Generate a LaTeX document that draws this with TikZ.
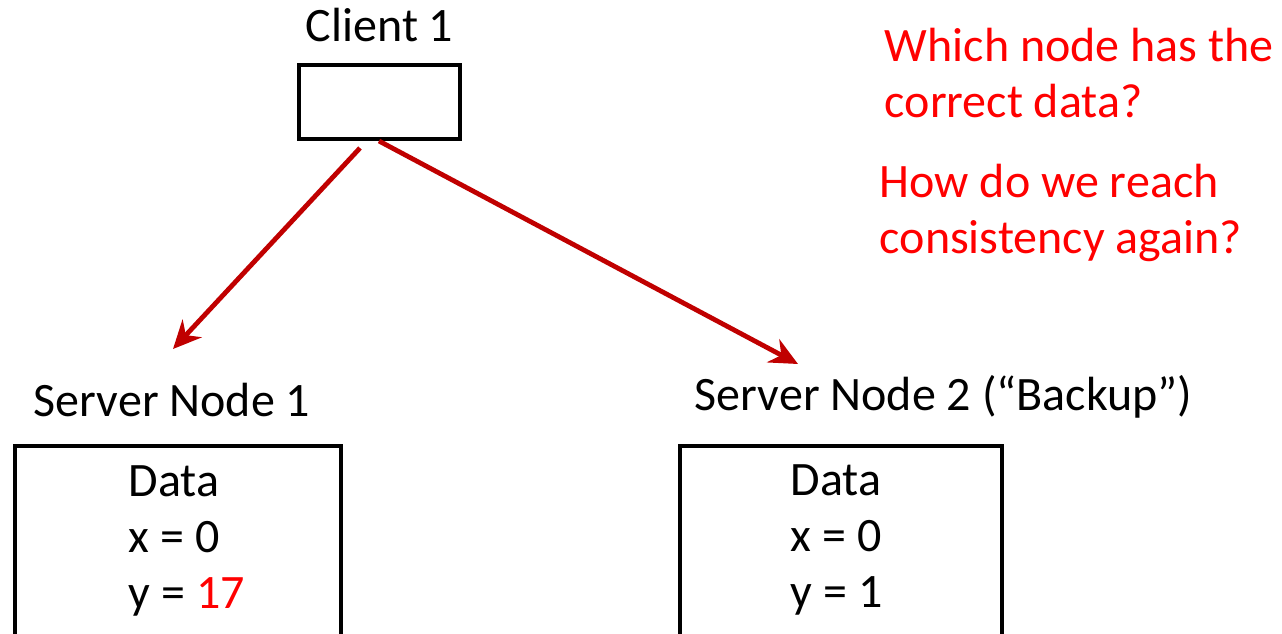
\documentclass[tikz,border=0pt]{standalone}
\usepackage{fontspec}
\setmainfont{Carlito}
\usetikzlibrary{arrows.meta}
\definecolor{linkred}{HTML}{C00000}
\tikzset{>={Stealth[length=14pt,width=13pt]}}

\begin{document}
\begin{tikzpicture}[x=0.5pt, y=-0.5pt, thick,
    box/.style={draw, line width=2.2pt, inner sep=0pt},
    lbl/.style={inner sep=0pt, anchor=base west, font=\fontsize{24}{28}\selectfont},
    ask/.style={lbl, text=red, align=left},
    link/.style={->, draw=linkred, fill=linkred, line width=2.4pt}]
  \useasboundingbox (0,0) rectangle (1282,633);
  \clip (0,0) rectangle (1282,633);

  \node[box, minimum width=80.5pt, minimum height=37pt] (client) at (379.5,102) {};
  \node[box, anchor=north, minimum width=163pt, minimum height=128pt] (srv1) at (178,444) {};
  \node[box, anchor=north, minimum width=161pt, minimum height=128pt] (srv2) at (841,444) {};

  \node[lbl] (clientlbl) at (305,41) {Client 1};
  \node[lbl] (srv1lbl) at (33,416) {Server Node 1};
  \node[lbl] (srv2lbl) at (694,410) {Server Node 2 (“Backup”)};

  % multi-line nodes sit on the baseline of their last line
  \node[lbl, align=left] (data1) at (128,608) {Data\\x = 0\\y = \textcolor{red}{17}};
  \node[lbl, align=left] (data2) at (790,607) {Data\\x = 0\\y = 1};

  \node[ask] (q1) at (884,117) {Which node has the\\correct data?};
  \node[ask] (q2) at (879,253) {How do we reach\\consistency again?};

  \coordinate (from1) at (360,148);
  \coordinate (from2) at (379,141);
  \coordinate (to1) at (173,349);
  \coordinate (to2) at (798,364);
  \draw[link] (from1) -- (to1);
  \draw[link] (from2) -- (to2);
\end{tikzpicture}
\end{document}
